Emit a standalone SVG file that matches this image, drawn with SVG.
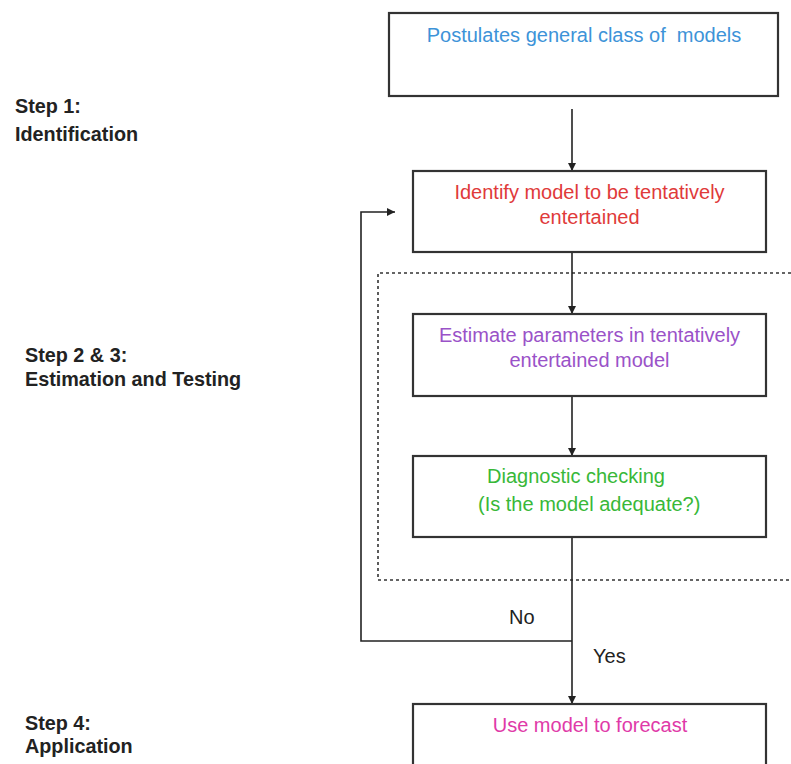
<svg xmlns="http://www.w3.org/2000/svg" width="791" height="764" viewBox="0 0 791 764">
<defs>
<style>
.box{fill:#fff;stroke:#333;stroke-width:2.2}
.t{font-family:"Liberation Sans",Arial,sans-serif;font-size:20px;white-space:pre}
.step{font-family:"Liberation Sans",Arial,sans-serif;font-size:19.8px;font-weight:bold;fill:#222}
.c{text-anchor:middle}
.ln{fill:none;stroke:#222;stroke-width:1.6}
</style>
<marker id="ah" viewBox="0 0 10 10" refX="10" refY="5" markerWidth="8" markerHeight="8" markerUnits="userSpaceOnUse" orient="auto">
<path d="M0,0 L10,5 L0,10 Z" fill="#222"/>
</marker>
</defs>
<rect width="791" height="764" fill="#fff"/>
<g id="step-labels">
<text class="step" x="15" y="113">Step 1:</text>
<text class="step" x="15" y="141">Identification</text>
<text class="step" x="25" y="362">Step 2 &amp; 3:</text>
<text class="step" x="25" y="386">Estimation and Testing</text>
<text class="step" x="25" y="730">Step 4:</text>
<text class="step" x="25" y="753">Application</text>
</g>
<g id="estimation-group">
<path d="M791,273 H378 V580 H791" fill="none" stroke="#333" stroke-width="1.6" stroke-dasharray="3,3"/>
</g>
<g id="connectors">
<line class="ln" x1="572" y1="109" x2="572" y2="171" marker-end="url(#ah)"/>
<line class="ln" x1="572" y1="252" x2="572" y2="314" marker-end="url(#ah)"/>
<line class="ln" x1="572" y1="396" x2="572" y2="456" marker-end="url(#ah)"/>
<line class="ln" x1="572" y1="537" x2="572" y2="704" marker-end="url(#ah)"/>
<path class="ln" d="M572,641 H361 V212 H395" marker-end="url(#ah)"/>
<text class="t" x="509" y="624" fill="#222" font-size="18">No</text>
<text class="t" x="593" y="663" fill="#222" font-size="18">Yes</text>
</g>
<g id="n1">
<rect class="box" x="389" y="13" width="389" height="83"/>
<text class="t c" x="584" y="42" fill="#3d93d8" xml:space="preserve">Postulates general class of  models</text>
</g>
<g id="n2">
<rect class="box" x="413" y="171" width="353" height="81"/>
<text class="t c" x="589.5" y="199" fill="#e03a3a">Identify model to be tentatively</text>
<text class="t c" x="589.5" y="224" fill="#e03a3a">entertained</text>
</g>
<g id="n3">
<rect class="box" x="413" y="314" width="353" height="82"/>
<text class="t c" x="589.5" y="342" fill="#9a52c8">Estimate parameters in tentatively</text>
<text class="t c" x="589.5" y="367" fill="#9a52c8">entertained model</text>
</g>
<g id="n4">
<rect class="box" x="413" y="456" width="353" height="81"/>
<text class="t" x="487" y="483" fill="#38b838">Diagnostic checking</text>
<text class="t" x="478" y="511" fill="#38b838">(Is the model adequate?)</text>
</g>
<g id="n5">
<rect class="box" x="413" y="704" width="353" height="70"/>
<text class="t c" x="590" y="732" fill="#e03aa8">Use model to forecast</text>
</g>
</svg>
